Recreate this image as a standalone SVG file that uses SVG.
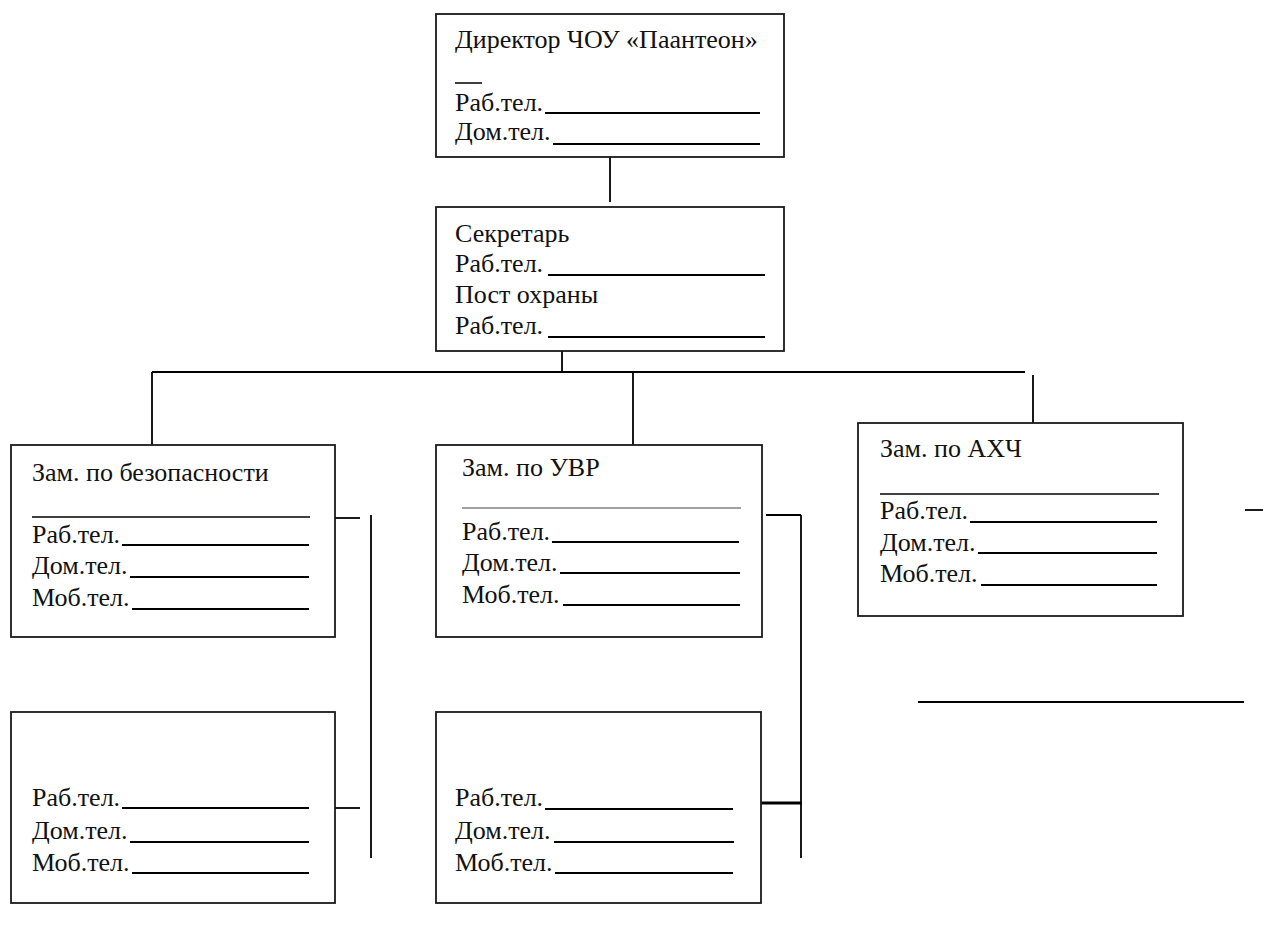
<svg xmlns="http://www.w3.org/2000/svg" width="1263" height="949" viewBox="0 0 1263 949">
<style>
.box{fill:#fff;stroke:#1a1a1a;stroke-width:1.8}
text{font-family:'Liberation Serif','Times New Roman',serif;font-size:26px;fill:#111}
.u{stroke:#000;stroke-width:2}
.s{stroke:#000;stroke-width:1.5}
.c{stroke:#000;stroke-width:1.8;fill:none}
</style>
<rect width="1263" height="949" fill="#fff"/>
<g id="connectors">
<line class="c" x1="610" y1="157" x2="610" y2="202"/>
<line class="c" x1="562" y1="351" x2="562" y2="372"/>
<line class="c" x1="152" y1="372" x2="1025" y2="372"/>
<line class="c" x1="152" y1="372" x2="152" y2="445"/>
<line class="c" x1="633" y1="372" x2="633" y2="445"/>
<line class="c" x1="1033" y1="375" x2="1033" y2="423"/>
<line class="c" x1="335" y1="518" x2="360" y2="518"/>
<line class="c" x1="371" y1="515" x2="371" y2="858"/>
<line class="c" x1="335" y1="808" x2="360" y2="808"/>
<line class="c" x1="766" y1="515" x2="801" y2="515"/>
<line class="c" x1="801" y1="515" x2="801" y2="858"/>
<line x1="760" y1="803" x2="802" y2="803" stroke="#000" stroke-width="2.8"/>
<line class="c" x1="1245" y1="510" x2="1263" y2="510"/>
<line class="u" x1="918" y1="702" x2="1244" y2="702"/>
</g>
<g id="director">
<rect class="box" x="436" y="14" width="348" height="143"/>
<text x="455" y="48" font-size="26.4">Директор ЧОУ «Паантеон»</text>
<line class="s" x1="455" y1="83" x2="482" y2="83"/>
<text x="455" y="111">Раб.тел.</text>
<line class="u" x1="545" y1="113" x2="760" y2="113"/>
<text x="455" y="140">Дом.тел.</text>
<line class="u" x1="553" y1="144" x2="760" y2="144"/>
</g>
<g id="secretary">
<rect class="box" x="436" y="207" width="348" height="144"/>
<text x="455" y="242">Секретарь</text>
<text x="455" y="272">Раб.тел.</text>
<line class="u" x1="548" y1="275" x2="765" y2="275"/>
<text x="455" y="303">Пост охраны</text>
<text x="455" y="334">Раб.тел.</text>
<line class="u" x1="548" y1="337" x2="765" y2="337"/>
</g>
<g id="zam-bez">
<rect class="box" x="11" y="445" width="324" height="192"/>
<text x="32" y="481">Зам. по безопасности</text>
<line class="s" x1="32" y1="517" x2="310" y2="517"/>
<text x="32" y="543">Раб.тел.</text>
<line class="u" x1="122" y1="545" x2="309" y2="545"/>
<text x="32" y="574">Дом.тел.</text>
<line class="u" x1="130" y1="577" x2="309" y2="577"/>
<text x="32" y="606">Моб.тел.</text>
<line class="u" x1="132" y1="609" x2="309" y2="609"/>
</g>
<g id="zam-uvr">
<rect class="box" x="436" y="445" width="326" height="192"/>
<text x="462" y="476">Зам. по УВР</text>
<line stroke="#808080" stroke-width="1.6" x1="462" y1="508" x2="741" y2="508"/>
<text x="462" y="540">Раб.тел.</text>
<line class="u" x1="552" y1="542" x2="739" y2="542"/>
<text x="462" y="571">Дом.тел.</text>
<line class="u" x1="560" y1="573" x2="740" y2="573"/>
<text x="462" y="603">Моб.тел.</text>
<line class="u" x1="563" y1="605" x2="740" y2="605"/>
</g>
<g id="zam-ahch">
<rect class="box" x="858" y="423" width="325" height="193"/>
<text x="880" y="457">Зам. по АХЧ</text>
<line class="s" x1="880" y1="494" x2="1159" y2="494"/>
<text x="880" y="519">Раб.тел.</text>
<line class="u" x1="970" y1="522" x2="1157" y2="522"/>
<text x="880" y="551">Дом.тел.</text>
<line class="u" x1="978" y1="553" x2="1157" y2="553"/>
<text x="880" y="582">Моб.тел.</text>
<line class="u" x1="981" y1="585" x2="1157" y2="585"/>
</g>
<g id="box-bottom-left">
<rect class="box" x="11" y="712" width="324" height="191"/>
<text x="32" y="806">Раб.тел.</text>
<line class="u" x1="122" y1="808" x2="309" y2="808"/>
<text x="32" y="839">Дом.тел.</text>
<line class="u" x1="130" y1="842" x2="309" y2="842"/>
<text x="32" y="871">Моб.тел.</text>
<line class="u" x1="132" y1="873" x2="309" y2="873"/>
</g>
<g id="box-bottom-mid">
<rect class="box" x="436" y="712" width="325" height="191"/>
<text x="455" y="806">Раб.тел.</text>
<line class="u" x1="545" y1="809" x2="733" y2="809"/>
<text x="455" y="839">Дом.тел.</text>
<line class="u" x1="554" y1="842" x2="734" y2="842"/>
<text x="455" y="871">Моб.тел.</text>
<line class="u" x1="555" y1="873" x2="733" y2="873"/>
</g>
</svg>
